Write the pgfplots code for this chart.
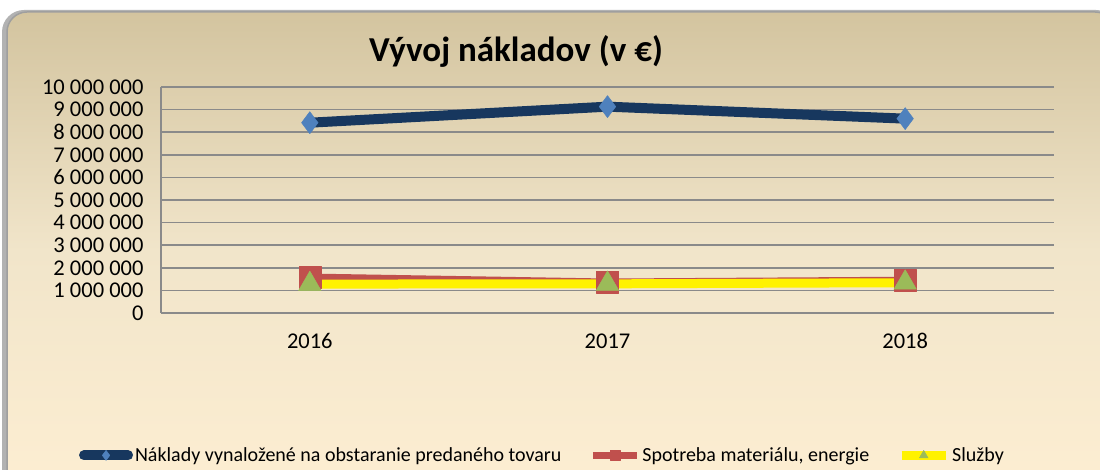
\documentclass[border=0pt]{standalone}
\usepackage{fontspec}
\setmainfont{Carlito}
\usepackage{pgfplots}
\pgfplotsset{compat=1.18}
\definecolor{bgtop}{HTML}{D3C49F}
\definecolor{bgmid}{HTML}{F1E5CA}
\definecolor{bgbot}{HTML}{FDEED2}
\definecolor{navy}{HTML}{17375E}
\definecolor{dblue}{HTML}{4F81BD}
\definecolor{dred}{HTML}{C0504D}
\definecolor{dgreen}{HTML}{9BBB59}
\definecolor{gridgray}{HTML}{8A8A8A}
\begin{document}
\begin{tikzpicture}[x=1pt,y=1pt]
\useasboundingbox (0,0) rectangle (1100,470);
\begin{scope}
\clip (0,0) rectangle (1100,470);
\fill[gray!60, rounded corners=22pt] (2,-20) rectangle (1118,460);
\shade[top color=bgtop, bottom color=bgbot, middle color=bgmid, rounded corners=20pt, draw=gray!75, line width=1.5pt] (7,-20) rectangle (1115,458);
\end{scope}
\node[font=\bfseries\fontsize{35}{40}\selectfont] at (516,419) {Vývoj nákladov (v €)};
\begin{axis}[
  at={(161pt,157pt)}, anchor=south west,
  scale only axis, width=893pt, height=226pt,
  xmin=-0.5, xmax=2.5, ymin=0, ymax=10000000,
  xtick={0,1,2}, xticklabels={2016,2017,2018},
  ytick={0,1000000,2000000,3000000,4000000,5000000,6000000,7000000,8000000,9000000,10000000},
  yticklabels={0,1 000 000,2 000 000,3 000 000,4 000 000,5 000 000,6 000 000,7 000 000,8 000 000,9 000 000,10 000 000},
  scaled y ticks=false,
  axis lines*=left,
  axis line style={gridgray, line width=1.6pt, -},
  ymajorgrids, major grid style={gridgray, line width=1.6pt},
  tick style={draw=none},
  ticklabel style={font=\fontsize{22.5}{24}\selectfont},
  yticklabel style={xshift=-14pt},
  xticklabel style={yshift=-17pt},
  clip=false,
  legend columns=3,
  legend style={at={(-0.092,-0.63)}, anchor=west, draw=none, fill=none,
    font=\fontsize{20}{22}\selectfont, inner sep=0pt,
    /tikz/every even column/.append style={column sep=26pt}},
  legend cell align=left,
  legend image code/.code={\draw[mark repeat=2,mark phase=2,#1, mark size=5pt] plot coordinates {(0pt,0pt) (22pt,0pt) (44pt,0pt)};},
]
\addplot[navy, line width=10pt, line cap=round, line join=round, mark=diamond*, mark size=11pt, mark options={fill=dblue, draw=dblue, line width=0.5pt}]
  coordinates {(0,8420000) (1,9130000) (2,8600000)};
\addlegendentry{Náklady vynaložené na obstaranie predaného tovaru}
\addplot[dred, line width=7pt, line join=round, mark=square*, mark size=11pt, mark options={fill=dred, draw=dred, line width=0.5pt}]
  coordinates {(0,1590000) (1,1370000) (2,1450000)};
\addlegendentry{Spotreba materiálu, energie}
\addplot[yellow, line width=9pt, line join=round, mark=triangle*, mark size=13pt, mark options={fill=dgreen, draw=dgreen, line width=0.5pt}]
  coordinates {(0,1280000) (1,1290000) (2,1340000)};
\addlegendentry{Služby}
\end{axis}
\end{tikzpicture}
\end{document}
